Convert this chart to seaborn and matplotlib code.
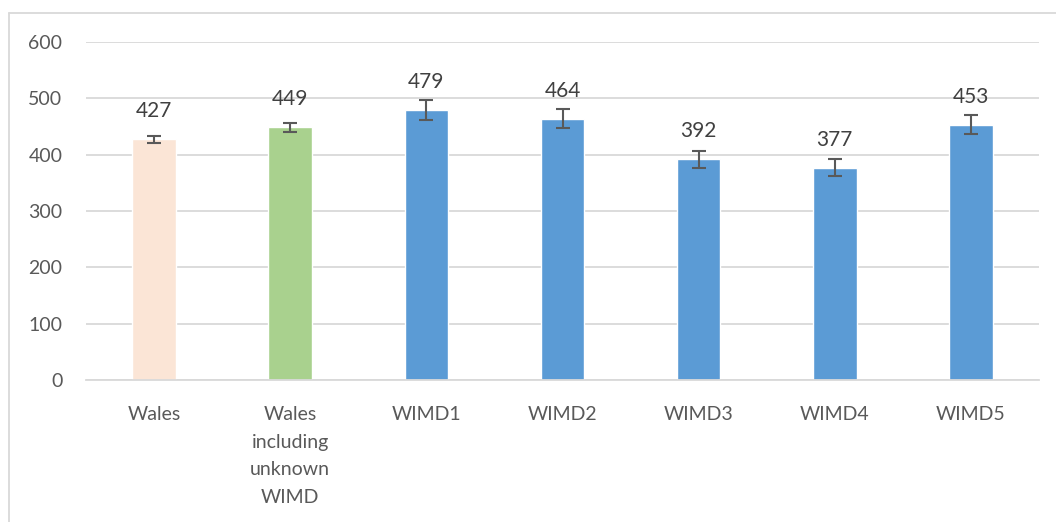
import numpy as np
import pandas as pd
import seaborn as sns
import matplotlib.pyplot as plt
import matplotlib.transforms as mtrans
from matplotlib.lines import Line2D
from matplotlib.container import BarContainer

# data
groups = ['Wales', 'Wales\nincluding\nunknown\nWIMD', 'WIMD1', 'WIMD2', 'WIMD3', 'WIMD4', 'WIMD5']
rates = [427, 449, 479, 464, 392, 377, 453]
err_low = [7, 8, 18, 17, 15, 15, 17]
err_high = [7, 8, 18, 17, 15, 15, 17]
colours = ['#FBE5D6', '#A9D18E', '#5B9BD5', '#5B9BD5', '#5B9BD5', '#5B9BD5', '#5B9BD5']

df = pd.DataFrame({'group': groups, 'rate': rates})

sns.set_style('white')
plt.rcParams['font.family'] = ['Lato', 'DejaVu Sans']
text_col = '#595959'

fig = plt.figure(figsize=(10.56, 5.22), dpi=100)
ax = fig.add_axes([86/1056, 1-380/522, (1039-86)/1056, (380-42)/522])

sns.barplot(data=df, x='group', y='rate', hue='group', palette=colours,
            legend=False, width=0.32, ax=ax, saturation=1)

for c in ax.containers:
    if isinstance(c, BarContainer):
        ax.bar_label(c, padding=13, fontsize=15, color='#404040')

ax.errorbar(np.arange(len(groups)), rates, yerr=[err_low, err_high], fmt='none',
            ecolor='#595959', elinewidth=1.5, capsize=5, capthick=1.5, zorder=5)

ax.set_ylim(0, 600)
ax.set_yticks(range(0, 601, 100))
ax.set_xlim(-0.5, len(groups) - 0.5)
ax.set_xticks(range(len(groups)), [''] * len(groups))
ax.yaxis.grid(True, color='#D9D9D9', linewidth=1.3)
ax.set_axisbelow(True)
for s in ['top', 'right', 'left']:
    ax.spines[s].set_visible(False)
ax.spines['bottom'].set_color('#D9D9D9')
ax.spines['bottom'].set_linewidth(1.3)
ax.set_xlabel('')
ax.set_ylabel('')
ax.tick_params(axis='y', length=0, pad=17, labelsize=14, labelcolor=text_col)
ax.tick_params(axis='x', length=0)

# category labels with wider line spacing, like the original
trans = mtrans.blended_transform_factory(ax.transData, ax.transAxes) + \
    mtrans.ScaledTranslation(0, -19/72, fig.dpi_scale_trans)
for i, g in enumerate(groups):
    ax.text(i, 0, g, transform=trans, ha='center', va='top', fontsize=14,
            color=text_col, linespacing=1.75)

# chart frame like the original export
fig.add_artist(Line2D([9/1056, 1], [1-13/522, 1-13/522], color='#D9D9D9', lw=1.3))
fig.add_artist(Line2D([9/1056, 9/1056], [0, 1-13/522], color='#D9D9D9', lw=1.3))

plt.savefig('out.png', dpi=100)
plt.close()
